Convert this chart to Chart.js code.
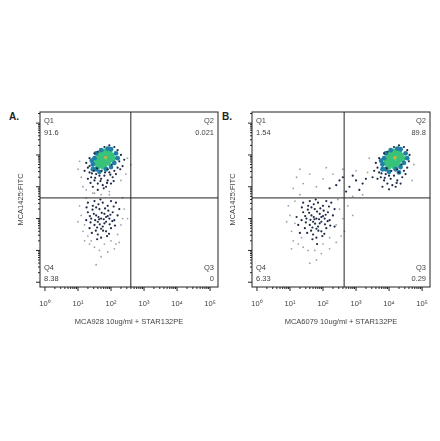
<!DOCTYPE html>
<html><head><meta charset="utf-8">
<script src="https://cdn.jsdelivr.net/npm/chart.js@4"></script>
<style>
body{margin:0;background:#fff;width:440px;height:441px;position:relative;font-family:"Liberation Sans",Arial,sans-serif}
.c{position:absolute}
.lab{position:absolute;font-weight:bold;font-size:10px;color:#222}
</style></head><body>
<div class="lab" style="left:9px;top:111px">A.</div>
<div class="lab" style="left:222px;top:111px">B.</div>
<div class="c" style="left:0;top:100px;width:222px;height:230px"><canvas id="ca"></canvas></div>
<div class="c" style="left:212px;top:100px;width:222px;height:230px"><canvas id="cb"></canvas></div>
<script>
// values in log10 decades
const xTickLabels=['10⁰','10¹','10²','10³','10⁴','10⁵'];
const quadA=['91.6','0.021','0','8.38'];
const quadB=['1.54','89.8','0.29','6.33'];
const gateA=[2.6,2.65], gateB=[2.64,2.65];
const titleA='MCA928 10ug/ml + STAR132PE', titleB='MCA6079 10ug/ml + STAR132PE';

const A_core=[[1.85,3.92],[1.9,3.96],[1.8,3.88]];
const A_green=[[1.6,3.85],[1.7,3.95],[1.75,3.8],[1.95,3.85],[2.0,3.98],[1.85,4.05],[1.7,3.72],[1.58,3.76],[1.9,3.76],[2.05,3.9],[1.65,4.0],[1.8,4.1],[1.95,4.08],[1.62,3.66],[1.78,3.64]];
const A_teal=[[1.45,3.7],[1.5,3.9],[1.55,3.55],[2.1,3.75],[2.15,4.05],[2.0,4.18],[1.7,4.15],[1.45,3.55],[1.65,3.47],[1.85,3.55],[2.0,3.62],[1.42,3.82],[2.2,3.9],[1.55,4.05],[1.9,4.2]];
const A_dark=[[1.3,3.6],[1.35,3.45],[1.4,3.3],[1.5,3.2],[1.55,3.4],[1.6,3.1],[1.7,3.25],[1.75,3.05],[1.8,3.35],[1.9,3.2],[1.95,3.45],[2.05,3.3],[2.1,3.5],[2.2,3.6],[2.25,3.8],[2.3,4.0],[2.2,4.15],[2.1,4.25],[1.95,4.3],[1.8,4.25],[1.6,4.1],[1.5,4.05],[1.35,3.9],[1.25,3.75],[1.45,3.0],[1.6,2.9],[1.85,3.0],[2.0,3.1],[1.3,3.25],[1.2,3.5],[2.35,3.65],[2.4,3.85],[1.65,3.35],[1.72,3.5],[1.9,3.55],[1.58,3.58],[2.02,3.7],[1.42,3.42],[1.52,3.28],[1.88,3.12],[2.15,3.4],[1.78,2.95],[1.38,3.12],[2.28,3.55],[1.48,3.5],[1.68,3.18],[1.98,3.38],[2.08,3.18],[1.82,3.45],[1.35,3.65],
[1.3,2.2],[1.4,2.0],[1.5,1.8],[1.55,2.1],[1.6,1.9],[1.65,2.3],[1.7,2.0],[1.75,1.75],[1.8,2.15],[1.85,1.9],[1.9,2.4],[1.95,2.0],[2.0,1.7],[2.05,2.2],[2.1,1.95],[1.45,2.4],[1.35,1.7],[1.25,1.95],[1.6,1.5],[1.7,1.4],[1.85,1.6],[1.5,2.55],[1.75,2.5],[2.15,2.5],[1.62,2.05],[1.78,1.98],[1.58,1.72],[1.92,2.25],[1.42,1.55],[2.2,2.1],[1.68,2.6],[1.55,2.35],[1.88,1.45],[1.3,2.5],[2.0,2.55],
[1.48,2.15],[1.52,1.95],[1.66,1.82],[1.72,2.18],[1.82,2.32],[1.96,1.82],[2.08,2.38],[1.38,1.88],[1.62,2.45],[1.76,1.62],[1.9,2.08],[1.44,2.28],[2.12,1.78],[1.58,1.35],[1.98,2.12],[1.7,1.68],[1.85,2.05],[1.26,2.35],[2.25,2.3],[1.64,1.98],[1.54,1.62],[1.94,1.52],[1.8,1.85],[2.04,1.92],[1.36,2.08]];
const A_gray=[[1.1,3.3],[1.15,3.0],[1.25,2.9],[2.5,3.9],[2.45,3.4],[1.0,3.55],[2.3,3.2],[1.5,2.8],[1.95,2.85],[1.7,2.75],[2.6,3.7],[1.05,3.8],
[1.1,2.1],[1.15,1.6],[1.2,1.3],[1.35,1.2],[1.5,1.1],[1.65,1.0],[1.8,1.2],[2.0,1.3],[2.2,1.5],[2.3,1.8],[2.4,2.3],[2.35,2.65],[1.25,2.65],[1.0,1.9],[1.9,0.95],[2.1,1.05],[1.7,0.8],[1.55,0.55],[1.45,2.8],[1.95,2.75],[2.5,2.0],[2.25,1.25],[1.05,2.4],[1.2,1.8],[1.3,1.45],[2.35,2.0],[1.4,1.3],[2.15,1.2]];

const B_core=[[4.15,3.9],[4.2,3.95],[4.1,3.86]];
const B_green=[[3.95,3.85],[4.05,3.95],[4.1,3.78],[4.3,3.85],[4.35,3.98],[4.2,4.05],[4.05,3.7],[3.92,3.76],[4.25,3.74],[4.4,3.9],[4.0,4.02],[4.15,4.1],[4.3,4.08],[3.98,3.64],[4.18,3.64]];
const B_teal=[[3.8,3.7],[3.85,3.9],[3.9,3.55],[4.45,3.75],[4.5,4.05],[4.35,4.18],[4.05,4.15],[3.8,3.55],[4.0,3.47],[4.2,3.55],[4.35,3.62],[3.76,3.82],[4.55,3.9],[3.9,4.05],[4.25,4.2],[4.3,3.45]];
const B_dark=[[3.65,3.6],[3.7,3.45],[3.75,3.3],[3.85,3.2],[3.9,3.4],[3.95,3.1],[4.05,3.25],[4.1,3.05],[4.15,3.35],[4.25,3.2],[4.3,3.45],[4.4,3.3],[4.45,3.5],[4.55,3.6],[4.6,3.8],[4.62,4.0],[4.55,4.15],[4.45,4.25],[4.3,4.3],[4.15,4.25],[3.95,4.1],[3.85,4.05],[3.7,3.9],[3.6,3.75],[3.8,3.0],[4.0,2.92],[4.2,3.0],[4.35,3.1],[3.65,3.25],[3.55,3.5],[4.0,3.35],[4.07,3.5],[4.25,3.55],[3.93,3.58],[4.37,3.7],[3.77,3.42],[3.87,3.28],[4.23,3.12],[4.5,3.4],[3.5,3.3],
[3.2,3.1],[3.0,3.2],[2.8,3.0],[2.6,3.3],[2.4,3.05],[2.2,2.95],[2.7,2.85],[3.1,2.9],[2.5,3.2],[2.9,3.35],[3.3,3.25],
[1.4,2.2],[1.5,2.0],[1.6,1.8],[1.65,2.1],[1.7,1.9],[1.75,2.3],[1.8,2.0],[1.85,1.75],[1.9,2.15],[1.95,1.9],[2.0,2.4],[2.05,2.0],[2.1,1.7],[2.15,2.2],[2.2,1.95],[1.55,2.4],[1.45,1.7],[1.35,1.95],[1.7,1.5],[1.8,1.4],[1.95,1.6],[1.6,2.55],[1.85,2.5],[2.25,2.5],[1.72,2.05],[1.88,1.98],[1.68,1.72],[2.02,2.25],[1.52,1.55],[2.3,2.1],[1.78,2.6],[1.65,2.35],[1.98,1.45],[1.4,2.5],[2.1,2.55],[1.25,1.8],[1.2,2.05],[2.35,1.75],[1.82,1.2],
[1.58,2.18],[1.62,1.96],[1.76,1.84],[1.82,2.22],[1.92,2.32],[2.06,1.82],[2.18,2.38],[1.48,1.88],[1.72,2.45],[1.86,1.62],[2.0,2.08],[1.54,2.28],[2.22,1.78],[1.68,1.35],[2.08,2.12],[1.8,1.68],[1.95,2.05],[1.36,2.35],[2.35,2.3],[1.74,1.98],[1.64,1.62],[2.04,1.52],[1.9,1.85],[2.14,1.92],[1.46,2.08],[1.3,1.55]];
const B_gray=[[1.2,3.3],[1.4,3.1],[1.6,3.4],[1.8,3.0],[2.0,3.25],[1.1,2.95],[2.3,3.4],[2.6,3.55],[3.0,3.5],[3.35,3.45],[2.1,3.6],[3.2,2.75],[2.9,2.7],[4.7,3.2],[4.75,3.7],[3.4,3.9],[1.3,3.55],
[1.0,2.1],[1.05,1.6],[1.1,1.3],[1.25,1.2],[1.4,1.1],[1.55,1.0],[1.75,1.0],[2.0,1.2],[2.2,1.4],[2.4,1.8],[2.5,2.3],[2.45,2.6],[1.15,2.55],[0.9,1.9],[1.95,0.9],[2.2,1.05],[1.8,0.7],[1.6,0.6],[1.3,2.75],[2.6,2.0],[2.4,1.25],[0.95,2.4],[2.75,2.4],[2.65,1.6],[2.9,2.1],[1.05,1.05],[1.15,1.85],[1.35,1.4],[2.55,1.45]];

const Y_MIN=-0.15,Y_MAX=5.35,X_MIN=-0.15,X_MAX=5.24;
const decoPlugin={id:'deco',afterDatasetsDraw(ch,a,opts){
  const c=ch.ctx,ca=ch.chartArea,xs=ch.scales.x,ys=ch.scales.y;
  c.save();c.strokeStyle='#222';c.lineWidth=1;
  c.strokeRect(ca.left,ca.top,ca.right-ca.left,ca.bottom-ca.top);
  const gx=xs.getPixelForValue(opts.gate[0]),gy=ys.getPixelForValue(opts.gate[1]);
  c.beginPath();c.moveTo(gx,ca.top);c.lineTo(gx,ca.bottom);c.moveTo(ca.left,gy);c.lineTo(ca.right,gy);c.stroke();
  c.lineWidth=1;c.beginPath();
  for(let d=0;d<=5;d++){for(let k=1;k<10;k++){const v=d+Math.log10(k);
    const L=k===1?4:2;
    if(v>=X_MIN&&v<=X_MAX){const px=xs.getPixelForValue(v);c.moveTo(px,ca.bottom);c.lineTo(px,ca.bottom+L);}
    if(v>=Y_MIN&&v<=Y_MAX){const py=ys.getPixelForValue(v);c.moveTo(ca.left,py);c.lineTo(ca.left-L,py);}
  }}
  c.stroke();
  c.fillStyle='#444';c.font='7.5px "Liberation Sans", Arial';
  const q=opts.q;
  c.textAlign='left';c.fillText('Q1',ca.left+4,ca.top+11);c.fillText(q[0],ca.left+4,ca.top+23);
  c.fillText('Q4',ca.left+4,ca.bottom-17);c.fillText(q[3],ca.left+4,ca.bottom-6);
  c.textAlign='right';c.fillText('Q2',ca.right-4,ca.top+11);c.fillText(q[1],ca.right-4,ca.top+23);
  c.fillText('Q3',ca.right-4,ca.bottom-17);c.fillText(q[2],ca.right-4,ca.bottom-6);
  c.restore();}};
Chart.register(decoPlugin);
function pts(a){return a.map(p=>({x:p[0],y:p[1]}));}
function make(id,sets,q,gate,title){
  const ds=[
    {data:pts(sets[4]),backgroundColor:'#9aa3ad',pointRadius:0.9},
    {data:pts(sets[3]),backgroundColor:'#1d2a48',pointRadius:1.1},
    {data:pts(sets[2]),backgroundColor:'#1f7fa6',pointRadius:2.4},
    {data:pts(sets[1]),backgroundColor:'#38c27a',pointRadius:3.2},
    {data:pts(sets[0]),backgroundColor:'#e0b030',pointRadius:2.6}];
  ds.forEach(d=>{d.borderWidth=0;d.pointHoverRadius=0;});
  new Chart(document.getElementById(id),{type:'scatter',data:{datasets:ds},
  options:{responsive:true,maintainAspectRatio:false,animation:false,events:[],
   layout:{padding:{top:12,right:4,left:12,bottom:0}},
   plugins:{legend:{display:false},tooltip:{enabled:false},deco:{q,gate}},
   scales:{
    x:{type:'linear',min:X_MIN,max:X_MAX,grid:{display:false},border:{display:false},
      afterBuildTicks:s=>{s.ticks=[0,1,2,3,4,5].map(v=>({value:v}));},
      afterFit:s=>{s.height=43;},
      ticks:{maxRotation:0,padding:4,color:'#444',font:{size:7.5,family:'"Liberation Sans", Arial'},callback:v=>xTickLabels[v]},
      title:{display:true,text:title,color:'#444',font:{size:7.5,family:'"Liberation Sans", Arial'},padding:{top:6}}},
    y:{type:'linear',min:Y_MIN,max:Y_MAX,grid:{display:false},border:{display:false},
      afterBuildTicks:s=>{s.ticks=[];},
      afterFit:s=>{s.width=28;},
      ticks:{display:false},
      title:{display:true,text:'MCA1425:FITC',color:'#444',font:{size:7.5,family:'"Liberation Sans", Arial'},padding:{bottom:6}}}
   }}});
}
make('ca',[A_core,A_green,A_teal,A_dark,A_gray],quadA,gateA,titleA);
make('cb',[B_core,B_green,B_teal,B_dark,B_gray],quadB,gateB,titleB);
</script></body></html>
